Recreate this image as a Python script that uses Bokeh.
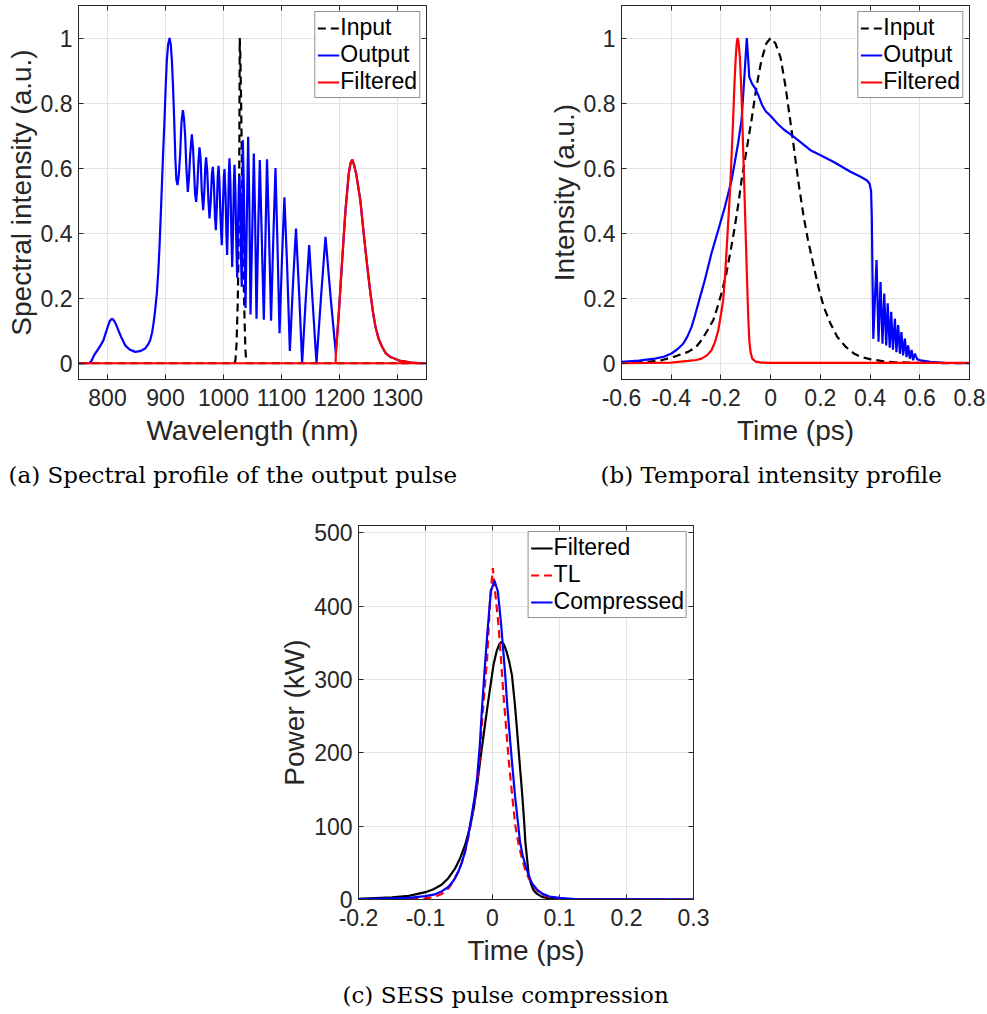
from bokeh.plotting import figure
from bokeh.models import Range1d, FixedTicker, CustomJSTickFormatter, LinearAxis, Title
from bokeh.layouts import column, row
from bokeh.embed import file_html
from bokeh.resources import INLINE

# ---------------- (a) spectral profile ----------------
spec_out_wl = [750, 768, 772, 777, 784.5, 789, 793, 800, 804, 807.5, 811, 815, 819, 825, 830.5, 838, 847.7, 856, 865, 870,
               873.6, 877, 879.3, 882, 885, 887.5, 889.7, 891.7, 893.7, 896, 898.3, 900.3, 902.3, 904.5, 907, 909, 911, 913, 915, 917,
               918.7, 920.7, 923, 925.3, 927.5, 930, 932, 934, 936, 938.5, 940.5, 942.5, 945.4, 947.5, 949.5, 951, 952.9, 955, 956.8, 958.6,
               960.5, 962.5, 965, 967, 968.5, 970, 972, 974, 975.9, 978, 980, 981.6, 983.5, 985.3, 986.8, 988.5, 990, 991.4, 993, 995,
               997, 999, 1000.5, 1001.7, 1003.5, 1005, 1006.3, 1008, 1009.2, 1010.3, 1012, 1013.5, 1015, 1016.7, 1018, 1019, 1020.5, 1022, 1023.6, 1025,
               1026.5, 1027.6, 1029, 1030.5, 1031.5, 1032.5, 1033.3, 1035, 1036.5, 1038, 1040, 1042.5, 1044.5, 1046.6, 1049.5, 1052.3, 1054.5, 1056.9, 1060, 1062.6,
               1065.8, 1069.5, 1072.5, 1075, 1078.5, 1082, 1085.8, 1089.6, 1093, 1096.6, 1100.8, 1105, 1109.7, 1114.4, 1119.7, 1125, 1130.3, 1135.6, 1141.6, 1147.7,
               1154, 1160.3, 1168, 1175.9, 1184.8, 1193.7, 1198.8, 1204.6, 1210.3, 1216, 1219, 1222, 1225, 1229, 1232.5, 1236, 1240.5, 1244.8, 1249, 1253.4,
               1257.5, 1262, 1267.5, 1273.6, 1280, 1288, 1305, 1324, 1340, 1350]
spec_out_val = [0, 0, 0.006, 0.025, 0.045, 0.058, 0.071, 0.11, 0.13, 0.137, 0.132, 0.118, 0.1, 0.075, 0.055, 0.042, 0.035, 0.037, 0.045, 0.058,
                0.071, 0.095, 0.122, 0.16, 0.214, 0.28, 0.358, 0.45, 0.543, 0.65, 0.748, 0.85, 0.932, 0.98, 1.0, 0.98, 0.932, 0.85, 0.748, 0.63,
                0.565, 0.548, 0.58, 0.645, 0.74, 0.778, 0.75, 0.696, 0.6, 0.527, 0.57, 0.64, 0.704, 0.66, 0.58, 0.52, 0.496, 0.55, 0.62, 0.664,
                0.63, 0.53, 0.471, 0.53, 0.6, 0.633, 0.59, 0.5, 0.445, 0.5, 0.58, 0.604, 0.55, 0.45, 0.409, 0.48, 0.57, 0.607, 0.56, 0.44,
                0.363, 0.48, 0.57, 0.597, 0.52, 0.4, 0.333, 0.46, 0.58, 0.63, 0.55, 0.4, 0.296, 0.43, 0.56, 0.61, 0.53, 0.38, 0.263, 0.42,
                0.55, 0.576, 0.48, 0.3, 0.235, 0.45, 0.686, 0.55, 0.32, 0.17, 0.42, 0.696, 0.5, 0.15, 0.4, 0.645, 0.45, 0.137, 0.42, 0.625,
                0.4, 0.134, 0.4, 0.627, 0.4, 0.131, 0.38, 0.6, 0.37, 0.092, 0.32, 0.51, 0.3, 0.038, 0.24, 0.414, 0.22, 0.001, 0.19, 0.363,
                0.18, 0.001, 0.2, 0.389, 0.2, 0.03, 0.153, 0.317, 0.47, 0.584, 0.615, 0.626, 0.61, 0.58, 0.54, 0.5, 0.42, 0.348, 0.28, 0.214,
                0.16, 0.112, 0.075, 0.05, 0.03, 0.019, 0.007, 0.002, 0, 0]

spec_in_wl = [750, 1019, 1020.6, 1022.5, 1024.6, 1026, 1026.9, 1027.5, 1028, 1029, 1030.3, 1032.6, 1034.9, 1036.5, 1037.8, 1039.5, 1350]
spec_in_val = [0, 0, 0.01, 0.06, 0.19, 0.36, 0.5, 0.75, 1.0, 0.95, 0.81, 0.5, 0.246, 0.12, 0.04, 0, 0]

# the filtered trace runs along the whole zero baseline, then rises at the filter edge
spec_filt_wl = [1350, 750, 1193.4, 1193.7, 1198.8, 1204.6, 1210.3, 1216, 1219, 1222, 1225, 1229, 1232.5, 1236, 1240.5, 1244.8, 1249, 1253.4,
                1257.5, 1262, 1267.5, 1273.6, 1280, 1288, 1305, 1324, 1340, 1350]
spec_filt_val = [0, 0, 0, 0.03, 0.153, 0.317, 0.47, 0.584, 0.615, 0.626, 0.61, 0.58, 0.54, 0.5, 0.42, 0.348, 0.28, 0.214,
                 0.16, 0.112, 0.075, 0.05, 0.03, 0.019, 0.007, 0.002, 0, 0]

# ---------------- (b) temporal profile ----------------
temp_in_t = [-0.6, -0.5, -0.439, -0.38, -0.332, -0.3, -0.278, -0.255, -0.231, -0.215, -0.198, -0.178, -0.16, -0.144, -0.13, -0.117,
             -0.097, -0.077, -0.057, -0.037, -0.017, 0.0, 0.019, 0.04, 0.06, 0.08, 0.1, 0.115, 0.133, 0.15, 0.174, 0.195, 0.214,
             0.24, 0.268, 0.3, 0.335, 0.362, 0.402, 0.455, 0.5, 0.6, 0.8]
temp_in_val = [0.001, 0.004, 0.009, 0.022, 0.035, 0.05, 0.071, 0.1, 0.132, 0.17, 0.214, 0.277, 0.35, 0.42, 0.49, 0.563,
               0.655, 0.748, 0.85, 0.932, 0.984, 1.0, 0.984, 0.94, 0.85, 0.74, 0.625, 0.54, 0.45, 0.38, 0.296, 0.225, 0.173,
               0.123, 0.081, 0.052, 0.03, 0.02, 0.012, 0.006, 0.003, 0.001, 0]

temp_out_t = [-0.6, -0.53, -0.466, -0.43, -0.399, -0.375, -0.352, -0.335, -0.318, -0.305, -0.291, -0.265, -0.238, -0.211, -0.184, -0.157,
              -0.131, -0.117, -0.104, -0.096, -0.09, -0.086, -0.075, -0.062, -0.05, -0.035, -0.02, 0.0, 0.03, 0.054, 0.087, 0.12, 0.16,
              0.187, 0.254, 0.321, 0.36, 0.388, 0.398, 0.404, 0.407, 0.41, 0.413,
              0.426, 0.434, 0.442, 0.45, 0.457, 0.465, 0.471, 0.479, 0.485, 0.492, 0.5, 0.506, 0.513, 0.52, 0.526, 0.533, 0.54, 0.547,
              0.553, 0.56, 0.567, 0.573, 0.58, 0.59, 0.603, 0.643, 0.7, 0.8]
temp_out_val = [0.004, 0.008, 0.014, 0.02, 0.03, 0.043, 0.06, 0.082, 0.112, 0.145, 0.184, 0.255, 0.338, 0.409, 0.481, 0.563,
                0.676, 0.748, 0.9, 1.0, 0.93, 0.88, 0.86, 0.845, 0.825, 0.795, 0.775, 0.76, 0.735, 0.718, 0.7, 0.68, 0.655,
                0.645, 0.619, 0.589, 0.574, 0.562, 0.552, 0.53, 0.45, 0.25, 0.075,
                0.317, 0.066, 0.25, 0.06, 0.214, 0.055, 0.184, 0.048, 0.158, 0.042, 0.137, 0.034, 0.117, 0.029, 0.096, 0.024, 0.076, 0.019,
                0.055, 0.014, 0.041, 0.009, 0.029, 0.012, 0.009, 0.004, 0.001, 0]

temp_filt_t = [-0.6, -0.4, -0.332, -0.3, -0.278, -0.255, -0.238, -0.224, -0.211, -0.2, -0.191, -0.184, -0.178, -0.171, -0.164, -0.157,
               -0.151, -0.146, -0.141, -0.137, -0.133, -0.129, -0.124, -0.119, -0.114, -0.109, -0.104, -0.099, -0.094, -0.09, -0.086,
               -0.081, -0.074, -0.06, -0.037, 0.0, 0.8]
temp_filt_val = [0, 0.002, 0.007, 0.01, 0.014, 0.025, 0.04, 0.065, 0.1, 0.15, 0.194, 0.26, 0.338, 0.43, 0.522, 0.64,
                 0.748, 0.85, 0.932, 0.98, 1.0, 0.985, 0.943, 0.86, 0.748, 0.62, 0.491, 0.36, 0.235, 0.14, 0.071,
                 0.035, 0.014, 0.005, 0.002, 0.001, 0.001]

# ---------------- (c) SESS pulse compression ----------------
comp_filt_t = [-0.2, -0.15, -0.125, -0.1, -0.088, -0.076, -0.066, -0.056, -0.048, -0.041, -0.034, -0.028, -0.023, -0.018, -0.013, -0.008,
               -0.003, 0.0015, 0.006, 0.01, 0.013, 0.017, 0.021, 0.025, 0.029, 0.033, 0.036, 0.04, 0.044, 0.047, 0.049, 0.052, 0.054,
               0.058, 0.061, 0.066, 0.074, 0.085, 0.1, 0.3]
comp_filt_p = [1, 3, 5, 10, 14, 20, 29, 42, 57, 74, 97, 124, 155, 192, 226, 260,
               292, 320, 338, 348, 351, 348, 338, 324, 306, 270, 238, 192, 147, 110, 79, 52, 33,
               20, 13, 8, 3.6, 1.5, 0.5, 0]

comp_tl_t = [-0.2, -0.125, -0.1, -0.086, -0.075, -0.066, -0.058, -0.051, -0.046, -0.041, -0.036, -0.031, -0.027, -0.023, -0.019, -0.016,
             -0.012, -0.008, -0.0035, 0.0005, 0.004, 0.009, 0.0125, 0.016, 0.02, 0.024, 0.029, 0.034, 0.039, 0.044, 0.049, 0.054,
             0.061, 0.069, 0.076, 0.084, 0.095, 0.108, 0.3]
comp_tl_p = [0, 0.5, 1.5, 3.6, 8, 15, 25, 38, 50, 65, 86, 110, 132, 156, 195, 238,
             285, 329, 410, 452, 419, 374, 330, 283, 238, 192, 145, 101, 75, 56, 40, 29,
             18, 10, 6, 3.6, 1.5, 0.5, 0]

comp_out_t = [-0.2, -0.15, -0.125, -0.1, -0.086, -0.076, -0.066, -0.058, -0.051, -0.046, -0.041, -0.036, -0.031, -0.027, -0.023, -0.019,
              -0.016, -0.012, -0.008, -0.0025, 0.003, 0.008, 0.013, 0.016, 0.019, 0.022, 0.026, 0.03, 0.034, 0.038, 0.041, 0.045,
              0.049, 0.054, 0.059, 0.066, 0.074, 0.085, 0.1, 0.123, 0.3]
comp_out_p = [0.5, 1.5, 2.3, 4.5, 7, 11, 17, 26, 38, 50, 65, 88, 115, 138, 165, 210,
              256, 310, 360, 420, 435, 420, 374, 340, 306, 265, 220, 178, 138, 105, 79, 60,
              47, 33, 22, 14, 8, 4, 2.3, 0.5, 0]

# ticks
a_xticks = [800, 900, 1000, 1100, 1200, 1300]
ab_yticks = [0, 0.2, 0.4, 0.6, 0.8, 1]
b_xticks = [-0.6, -0.4, -0.2, 0, 0.2, 0.4, 0.6, 0.8]
c_xticks = [-0.2, -0.1, 0, 0.1, 0.2, 0.3]
c_yticks = [0, 100, 200, 300, 400, 500]

TXT = "#262626"
FONT = "Liberation Sans"
GRID = "#e3e3e3"
LW = 2.2


def make_fig(xr, yr, fw, fh, mbl, mbr, mbt, mbb, xticks, yticks, xlabel, ylabel, caption, cap_off):
    p = figure(frame_width=fw, frame_height=fh, x_range=Range1d(*xr), y_range=Range1d(*yr),
               output_backend="svg", toolbar_location=None,
               min_border_left=mbl, min_border_right=mbr, min_border_top=mbt, min_border_bottom=mbb)
    p.background_fill_color = "white"
    p.border_fill_color = "white"
    p.outline_line_color = TXT
    p.outline_line_width = 1
    for ax, ticks, lab in ((p.xaxis[0], xticks, xlabel), (p.yaxis[0], yticks, ylabel)):
        ax.ticker = FixedTicker(ticks=ticks)
        ax.formatter = CustomJSTickFormatter(code="return String(tick);")
        ax.axis_label = lab
        ax.axis_label_text_font = FONT
        ax.axis_label_text_font_size = "28px"
        ax.axis_label_text_font_style = "normal"
        ax.axis_label_text_color = TXT
        ax.major_label_text_font = FONT
        ax.major_label_text_font_size = "23px"
        ax.major_label_text_color = TXT
        ax.major_tick_in = 5
        ax.major_tick_out = 0
        ax.minor_tick_line_color = None
        ax.axis_line_color = TXT
        ax.major_tick_line_color = TXT
    p.xaxis[0].major_label_standoff = 9
    p.xaxis[0].axis_label_standoff = 6
    p.yaxis[0].major_label_standoff = 6
    p.yaxis[0].axis_label_standoff = 1
    p.xgrid.ticker = FixedTicker(ticks=xticks)
    p.ygrid.ticker = FixedTicker(ticks=yticks)
    p.xgrid.grid_line_color = GRID
    p.ygrid.grid_line_color = GRID
    for ticks, side in ((yticks, "right"), (xticks, "above")):
        ax = LinearAxis(ticker=FixedTicker(ticks=ticks), formatter=CustomJSTickFormatter(code="return '';"),
                        major_label_standoff=0, major_tick_in=5, major_tick_out=0, minor_tick_line_color=None,
                        axis_line_color=TXT, major_tick_line_color=TXT)
        p.add_layout(ax, side)
    p.add_layout(Title(text=caption, align="left", offset=cap_off, text_font="DejaVu Serif",
                       text_font_size="23px", text_font_style="normal", text_color="black", standoff=22), "below")
    return p


def style_legend(p):
    lg = p.legend[0]
    lg.location = "top_right"
    lg.margin = 6
    lg.padding = 2
    lg.spacing = 0
    lg.label_height = 26
    lg.glyph_height = 26
    lg.glyph_width = 22
    lg.label_standoff = 1
    lg.label_text_font = FONT
    lg.label_text_font_size = "23px"
    lg.label_text_color = "black"
    lg.border_line_color = TXT
    lg.border_line_width = 1
    lg.background_fill_color = "white"
    lg.background_fill_alpha = 1


pa = make_fig((750, 1350), (-0.05, 1.1), 348, 374, 78, 64, 5, 121, a_xticks, ab_yticks,
              "Wavelength (nm)", "Spectral intensity (a.u.)", "(a) Spectral profile of the output pulse", -70)
pa.line(spec_in_wl, spec_in_val, color="black", line_width=LW, line_dash="8 5", legend_label="Input")
pa.line(spec_out_wl, spec_out_val, color="#0000ff", line_width=LW, legend_label="Output")
pa.line(spec_filt_wl, spec_filt_val, color="#ff0000", line_width=LW, legend_label="Filtered")
style_legend(pa)

pb = make_fig((-0.6, 0.8), (-0.05, 1.1), 348, 374, 131, 18, 5, 121, b_xticks, ab_yticks,
              "Time (ps)", "Intensity (a.u.)", "(b) Temporal intensity profile", -21)
pb.line(temp_in_t, temp_in_val, color="black", line_width=LW, line_dash="8 5", legend_label="Input")
pb.line(temp_out_t, temp_out_val, color="#0000ff", line_width=LW, legend_label="Output")
pb.line(temp_filt_t, temp_filt_val, color="#ff0000", line_width=LW, legend_label="Filtered")
style_legend(pb)

pc = make_fig((-0.2, 0.3), (0, 510), 335, 374, 358, 30, 25, 113, c_xticks, c_yticks,
              "Time (ps)", "Power (kW)", "(c) SESS pulse compression", -16)
pc.line(comp_filt_t, comp_filt_p, color="black", line_width=LW, legend_label="Filtered")
pc.line(comp_tl_t, comp_tl_p, color="#ff0000", line_width=LW, line_dash="8 5", legend_label="TL")
pc.line(comp_out_t, comp_out_p, color="#0000ff", line_width=LW, legend_label="Compressed")
style_legend(pc)

layout = column(row(pa, pb), pc)
open("out.html", "w").write(file_html(layout, INLINE))
